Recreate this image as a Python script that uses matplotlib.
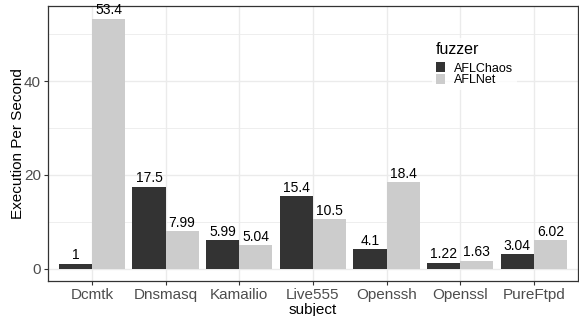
import matplotlib
matplotlib.use("Agg")
import matplotlib.pyplot as plt
from matplotlib.patches import Patch
from matplotlib.ticker import MultipleLocator
import numpy as np

plt.rcParams['font.family'] = ['Liberation Sans', 'DejaVu Sans']

subjects = ["Dcmtk", "Dnsmasq", "Kamailio", "Live555", "Openssh", "Openssl", "PureFtpd"]
fuzzers = ["AFLChaos", "AFLNet"]
aflchaos = [1, 17.5, 5.99, 15.4, 4.1, 1.22, 3.04]
aflnet = [53.4, 7.99, 5.04, 10.5, 18.4, 1.63, 6.02]
colors = ["#333333", "#CCCCCC"]

fig = plt.figure(figsize=(5.79, 3.16), dpi=100)
ax = fig.add_axes([47.7 / 579, 1 - 281 / 316, (578 - 47.7) / 579, (281 - 6) / 316])

x = np.arange(1, len(subjects) + 1)
w = 0.45
for i, (vals, c) in enumerate([(aflchaos, colors[0]), (aflnet, colors[1])]):
    pos = x + (i - 0.5) * w
    ax.bar(pos, vals, width=w, color=c, zorder=3)
    for p, v in zip(pos, vals):
        ax.annotate(f"{v:g}", (p, v), xytext=(0, 1.0), textcoords="offset points",
                    ha="center", va="bottom", fontsize=10, color="black", zorder=4)

ymax = max(max(aflchaos), max(aflnet))
ax.set_ylim(-0.05 * ymax, ymax * 1.05)
ax.set_xlim(0.4, len(subjects) + 0.6)
ax.set_xticks(x)
ax.set_xticklabels(subjects)
ax.yaxis.set_major_locator(MultipleLocator(20))
ax.yaxis.set_minor_locator(MultipleLocator(10))

ax.grid(which="major", color="#EBEBEB", lw=1.0, zorder=0)
ax.grid(which="minor", axis="y", color="#EBEBEB", lw=0.6, zorder=0)
ax.set_axisbelow(True)
for s in ax.spines.values():
    s.set_color("#333333")
    s.set_linewidth(0.9)

ax.tick_params(axis="both", which="major", colors="#333333", labelcolor="#4D4D4D",
               labelsize=11, length=3, width=0.8, pad=2)
ax.tick_params(axis="y", which="minor", length=0)

ax.set_xlabel("subject", fontsize=11, labelpad=1)
ax.set_ylabel("Execution Per Second", fontsize=11, labelpad=-1)

handles = [Patch(facecolor=c, edgecolor="none") for c in colors]
leg = ax.legend(handles, fuzzers, title="fuzzer", loc="upper left",
                bbox_to_anchor=(432 / 579, 1 - 38 / 316), bbox_transform=fig.transFigure,
                fontsize=9, title_fontsize=11.5, frameon=True, fancybox=False,
                handlelength=0.75, handleheight=0.85, labelspacing=-0.05,
                handletextpad=0.7, borderpad=0.3, borderaxespad=0)
leg.get_frame().set_facecolor("white")
leg.get_frame().set_edgecolor("none")
leg._legend_box.align = "left"
leg._legend_box.sep = 4

fig.savefig("out.png", dpi=100)
